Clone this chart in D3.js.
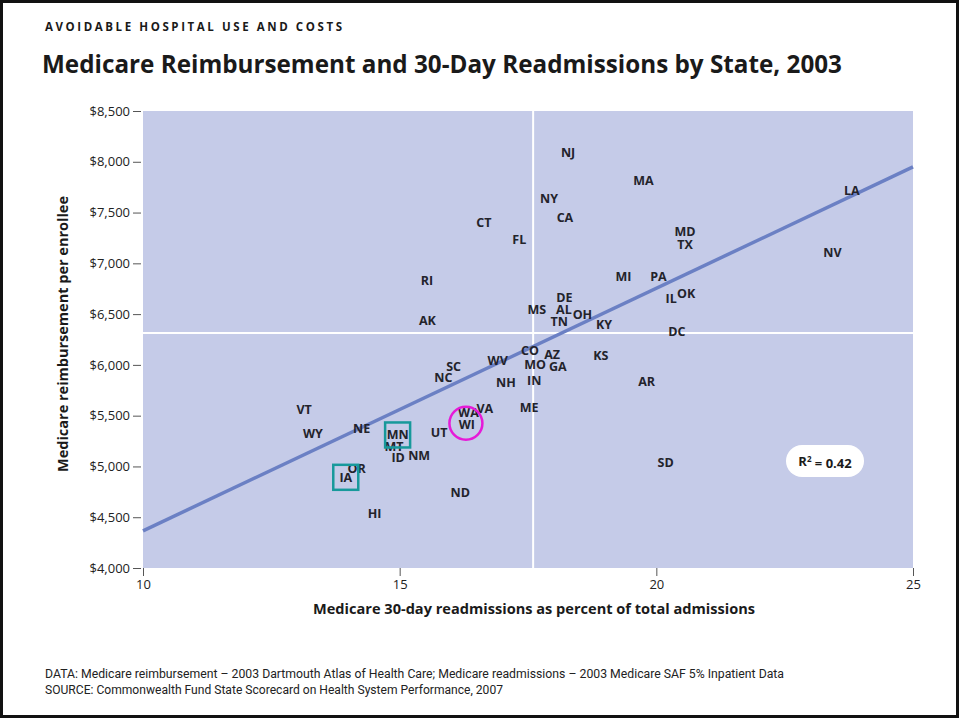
<!DOCTYPE html>
<html><head><meta charset="utf-8">
<script src="https://cdn.jsdelivr.net/npm/d3@7"></script>
<style>body{margin:0;background:#fff;} svg{display:block;}</style>
</head><body>
<svg id="c" width="961" height="719"></svg>
<script>
// ---- data ----
const states  = ["NJ","MA","NY","CA","CT","FL","MD","TX","RI","MI","PA","OK","IL","DE","MS","AL","OH","TN","KY","AK","DC","LA","NV","CO","AZ","KS","WV","MO","GA","SC","NC","NH","IN","AR","ME","VA","WA","WI","UT","NM","SD","ND","VT","WY","NE","MT","MN","ID","OR","IA","HI"];
const readmit = [18.28,19.75,17.91,18.22,16.64,17.33,20.56,20.56,15.53,19.36,20.04,20.58,20.29,18.21,17.67,18.20,18.56,18.11,18.98,15.54,20.40,23.81,23.43,17.54,17.97,18.92,16.91,17.64,18.08,16.05,15.85,17.07,17.62,19.81,17.52,16.66,16.34,16.31,15.77,15.38,20.18,16.18,13.14,13.31,14.26,14.89,14.96,14.97,14.16,13.95,14.51];
const reimb   = [8087,7814,7640,7453,7400,7237,7312,7187,6829,6869,6875,6705,6656,6665,6541,6541,6501,6432,6393,6442,6327,7715,7105,6140,6107,6097,6042,5999,5983,5983,5874,5828,5851,5841,5582,5566,5533,5415,5332,5106,5037,4742,5563,5326,5369,5195,5310,5090,4975,4893,4532];
const xTicks = [10,15,20,25];
const yTicks = [4000,4500,5000,5500,6000,6500,7000,7500,8000,8500];
const fitX = [10,25];
const fitY = [4366,7949];
const meanReadmit = 17.6;
const meanReimb = 6315;
const rSquared = "0.42";
const boxedStates = ["MN","IA"];
const circledStates = ["WI"];

// ---- chart ----
const svg = d3.select("#c");
const x = d3.scaleLinear().domain([10,25]).range([143,913]);
const y = d3.scaleLinear().domain([4000,8500]).range([568,111]);
const data = states.map((s,i)=>({s, x:readmit[i], y:reimb[i]}));

svg.append("rect").attr("x",1.5).attr("y",1.5).attr("width",956).attr("height",715)
  .attr("fill","#fff").attr("stroke","#111").attr("stroke-width",3);

svg.append("text").attr("x",45).attr("y",31).text("AVOIDABLE HOSPITAL USE AND COSTS")
  .attr("font-family","Open Sans").attr("font-weight",700).attr("font-size",11.5)
  .attr("fill","#1a1a1a").attr("textLength",297).attr("lengthAdjust","spacing");

svg.append("text").attr("x",42).attr("y",73).text("Medicare Reimbursement and 30-Day Readmissions by State, 2003")
  .attr("font-family","Open Sans").attr("font-weight",700).attr("font-size",25)
  .attr("fill","#1a1a1a").attr("textLength",800).attr("lengthAdjust","spacingAndGlyphs");

// plot background
svg.append("rect").attr("x",x(10)).attr("y",y(8500))
  .attr("width",x(25)-x(10)).attr("height",y(4000)-y(8500)).attr("fill","#c5cbe8");

// mean lines
svg.append("line").attr("x1",x(meanReadmit)).attr("x2",x(meanReadmit))
  .attr("y1",y(8500)).attr("y2",y(4000)).attr("stroke","#fff").attr("stroke-width",2);
svg.append("line").attr("x1",x(10)).attr("x2",x(25))
  .attr("y1",y(meanReimb)).attr("y2",y(meanReimb)).attr("stroke","#fff").attr("stroke-width",2);

// fit line
svg.append("line").attr("x1",x(fitX[0])).attr("x2",x(fitX[1]))
  .attr("y1",y(fitY[0])).attr("y2",y(fitY[1]))
  .attr("stroke","#6b80c4").attr("stroke-width",3.5);

// axes
const yAxis = d3.axisLeft(y).tickValues(yTicks).tickFormat(d=>"$"+d3.format(",")(d)).tickSize(8).tickPadding(3);
const gy = svg.append("g").attr("transform","translate(141,0)").call(yAxis);
gy.select(".domain").remove();
gy.selectAll("line").attr("stroke","#555");
gy.selectAll("text").attr("font-family","Open Sans").attr("font-size",13).attr("fill","#222");

const xAxis = d3.axisBottom(x).tickValues(xTicks).tickSize(8).tickPadding(4);
const gx = svg.append("g").attr("transform","translate(0,568)").call(xAxis);
gx.select(".domain").remove();
gx.selectAll("line").attr("stroke","#555");
gx.selectAll("text").attr("font-family","Open Sans").attr("font-size",13).attr("fill","#222");

// axis titles
svg.append("text").attr("transform","translate(68,334) rotate(-90)").attr("text-anchor","middle")
  .text("Medicare reimbursement per enrollee")
  .attr("font-family","Open Sans").attr("font-weight",700).attr("font-size",13.5).attr("fill","#1a1a1a")
  .attr("textLength",276).attr("lengthAdjust","spacingAndGlyphs");
svg.append("text").attr("x",534).attr("y",614).attr("text-anchor","middle")
  .text("Medicare 30-day readmissions as percent of total admissions")
  .attr("font-family","Open Sans").attr("font-weight",700).attr("font-size",14).attr("fill","#1a1a1a")
  .attr("textLength",442).attr("lengthAdjust","spacingAndGlyphs");

// state labels
svg.append("g").selectAll("text").data(data).join("text")
  .attr("x",d=>x(d.x)).attr("y",d=>y(d.y)).attr("dy","0.36em").attr("text-anchor","middle")
  .attr("font-family","Open Sans").attr("font-weight",700).attr("font-size",12.5)
  .attr("fill","#23232b").text(d=>d.s);

// annotations
svg.append("g").selectAll("rect").data(data.filter(d=>boxedStates.includes(d.s))).join("rect")
  .attr("x",d=>x(d.x)-12.5).attr("y",d=>y(d.y)-12.5).attr("width",25).attr("height",25)
  .attr("fill","none").attr("stroke","#17999b").attr("stroke-width",2.5);
svg.append("g").selectAll("circle").data(data.filter(d=>circledStates.includes(d.s))).join("circle")
  .attr("cx",d=>x(d.x)-1).attr("cy",d=>y(d.y)-1).attr("r",16.5)
  .attr("fill","none").attr("stroke","#e61ad8").attr("stroke-width",2.5);

// R² box
const rb = svg.append("g").attr("transform","translate(825,461)");
rb.append("rect").attr("x",-39).attr("y",-16).attr("width",78).attr("height",32).attr("rx",16).attr("fill","#fff");
const rt = rb.append("text").attr("text-anchor","middle").attr("dy","0.36em")
  .attr("font-family","Open Sans").attr("font-weight",700).attr("font-size",13).attr("fill","#1a1a1a");
rt.append("tspan").text("R");
rt.append("tspan").text("2").attr("font-size",8).attr("dy","-0.45em");
rt.append("tspan").text(" = "+rSquared).attr("dy","0.45em");

// footer
svg.append("text").attr("x",45).attr("y",678)
  .text("DATA: Medicare reimbursement \u2013 2003 Dartmouth Atlas of Health Care; Medicare readmissions \u2013 2003 Medicare SAF 5% Inpatient Data")
  .attr("font-family","Roboto").attr("font-size",12).attr("fill","#222")
  .attr("textLength",739).attr("lengthAdjust","spacingAndGlyphs");
svg.append("text").attr("x",45).attr("y",694)
  .text("SOURCE: Commonwealth Fund State Scorecard on Health System Performance, 2007")
  .attr("font-family","Roboto").attr("font-size",12).attr("fill","#222")
  .attr("textLength",458).attr("lengthAdjust","spacingAndGlyphs");
</script>
</body></html>
